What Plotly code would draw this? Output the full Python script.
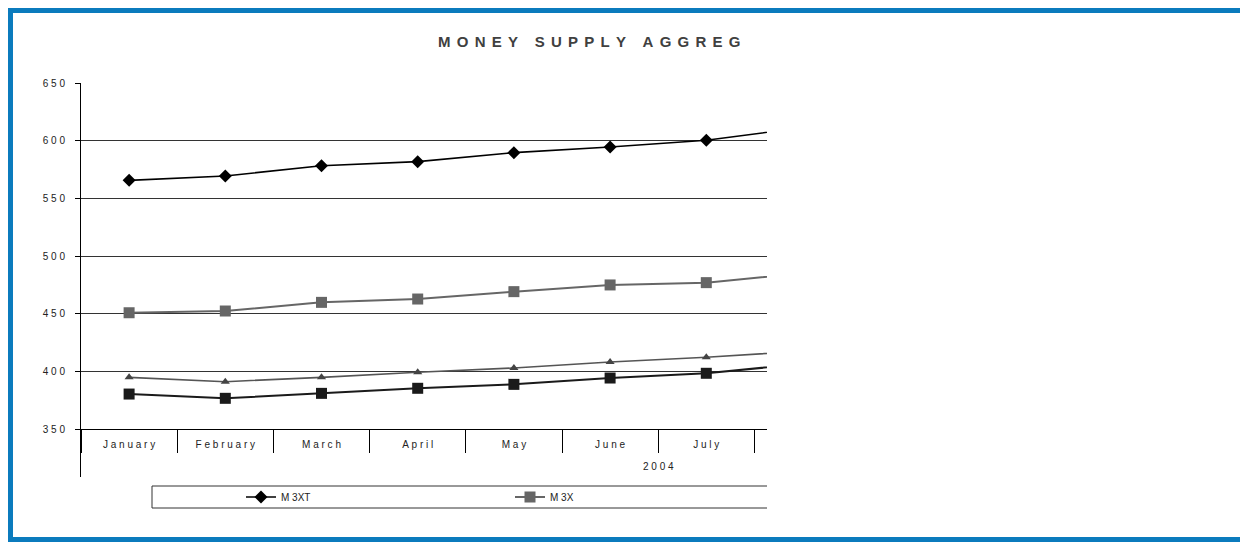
import plotly.graph_objects as go

# ---- data ----
months = ["January", "February", "March", "April", "May", "June", "July", "August"]
m3xt = [565.6, 569.4, 578.3, 581.8, 589.6, 594.5, 600.3, 611.3]
m3x = [450.8, 452.3, 459.8, 462.7, 469.1, 474.9, 476.9, 485.1]
series_tri = [394.8, 391.0, 394.8, 399.2, 402.9, 408.1, 412.2, 417.5]
series_sq = [380.3, 376.6, 380.9, 385.3, 388.7, 394.2, 398.3, 406.5]
y_ticks = [350, 400, 450, 500, 550, 600, 650]
year_label = "2004"
title_words = ["MONEY", "SUPPLY", "AGGREG"]

# ---- layout geometry (page pixels; page body has an 8px margin) ----
OFF = 8
W, H = 1248 - OFF, 542 - OFF
L, R, T, B = 81 - OFF, 767 - OFF, 83 - OFF, 429 - OFF  # plot area edges


def px_x(p):
    """page x pixel -> paper coordinate"""
    return (p - OFF - L) / (R - L)


def px_y(p):
    """page y pixel -> paper coordinate"""
    return (B - (p - OFF)) / (B - T)


def spaced(s, sep="\u00a0"):
    return sep.join(list(s))


FONT = "Liberation Sans, Arial, sans-serif"

fig = go.Figure()
fig.add_trace(go.Scatter(
    x=months, y=series_sq, mode="lines+markers", showlegend=False,
    line=dict(color="#1a1a1a", width=2),
    marker=dict(symbol="square", size=11, color="#1a1a1a")))
fig.add_trace(go.Scatter(
    x=months, y=series_tri, mode="lines+markers", showlegend=False,
    line=dict(color="#555555", width=1.6),
    marker=dict(symbol="triangle-up", size=8, color="#444444")))
fig.add_trace(go.Scatter(
    x=months, y=m3x, mode="lines+markers", name="M\u00a03X",
    line=dict(color="#666666", width=2),
    marker=dict(symbol="square", size=11, color="#666666")))
fig.add_trace(go.Scatter(
    x=months, y=m3xt, mode="lines+markers", name="M\u00a03XT",
    line=dict(color="#000000", width=1.6),
    marker=dict(symbol="diamond", size=10, color="#000000")))

fig.update_layout(
    width=W, height=H,
    margin=dict(l=L, r=W - R, t=T, b=H - B, pad=0),
    paper_bgcolor="white", plot_bgcolor="white",
    font=dict(family=FONT, size=10, color="#222222"),
    legend=dict(orientation="h", traceorder="reversed",
                x=px_x(241), xanchor="left", y=px_y(497), yanchor="middle",
                entrywidth=224, entrywidthmode="pixels",
                bgcolor="rgba(0,0,0,0)", borderwidth=0,
                font=dict(family=FONT, size=10, color="#222222")),
    xaxis=dict(type="category", categoryorder="array", categoryarray=months,
               range=[-0.5, (R - L) / 96.2 - 0.5],
               tickmode="array", tickvals=months,
               ticktext=[spaced(m) for m in months],
               tickson="boundaries", ticks="outside", ticklen=23,
               tickcolor="#000000", tickwidth=1,
               ticklabelstandoff=6,
               showline=True, linecolor="#000000", linewidth=1,
               showgrid=False, zeroline=False,
               tickfont=dict(family=FONT, size=10, color="#222222")),
    yaxis=dict(range=[350, 650], tickmode="array", tickvals=y_ticks,
               ticktext=[spaced(str(v)) for v in y_ticks],
               ticks="outside", ticklen=5, tickcolor="#000000",
               showline=True, linecolor="#000000", linewidth=1,
               showgrid=True, gridcolor="#333333", gridwidth=1,
               zeroline=False, ticklabelstandoff=8,
               tickfont=dict(family=FONT, size=10, color="#222222")),
)

# title (clipped in the reference after "AGGREG")
letter_gap = "\u2005\u2006"
word_gap = letter_gap + "\u00a0" + letter_gap
title_text = word_gap.join(spaced(w, letter_gap) for w in title_words)
fig.add_annotation(text="<b>" + title_text + "</b>", xref="paper", yref="paper",
                   x=px_x(436), y=px_y(41), xanchor="left", yanchor="middle",
                   showarrow=False,
                   font=dict(family=FONT, size=15, color="#404040"))

# year group label
fig.add_annotation(text=spaced(year_label), xref="x", yref="paper",
                   x=5.5, y=px_y(466), xanchor="center", yanchor="middle",
                   showarrow=False,
                   font=dict(family=FONT, size=10, color="#222222"))

shapes = []
# y-axis extension below the category axis
shapes.append(dict(type="line", xref="paper", yref="paper",
                   x0=px_x(80.5), x1=px_x(80.5), y0=0, y1=px_y(477),
                   line=dict(color="#000000", width=1)))
# legend frame (right side clipped)
for yy in (486, 508):
    shapes.append(dict(type="line", xref="paper", yref="paper",
                       x0=px_x(152), x1=px_x(767), y0=px_y(yy), y1=px_y(yy),
                       line=dict(color="#333333", width=1)))
shapes.append(dict(type="line", xref="paper", yref="paper",
                   x0=px_x(152), x1=px_x(152), y0=px_y(486), y1=px_y(508),
                   line=dict(color="#333333", width=1)))
# outer blue frame (along the figure edges)
shapes.append(dict(type="rect", xref="paper", yref="paper",
                   x0=px_x(OFF + 2.5), x1=px_x(1248 - 2.5),
                   y0=px_y(542 - 2.5), y1=px_y(OFF + 2.5),
                   line=dict(color="#0b7bbd", width=5), fillcolor="rgba(0,0,0,0)"))
fig.update_layout(shapes=shapes)

fig.write_html("out.html")
